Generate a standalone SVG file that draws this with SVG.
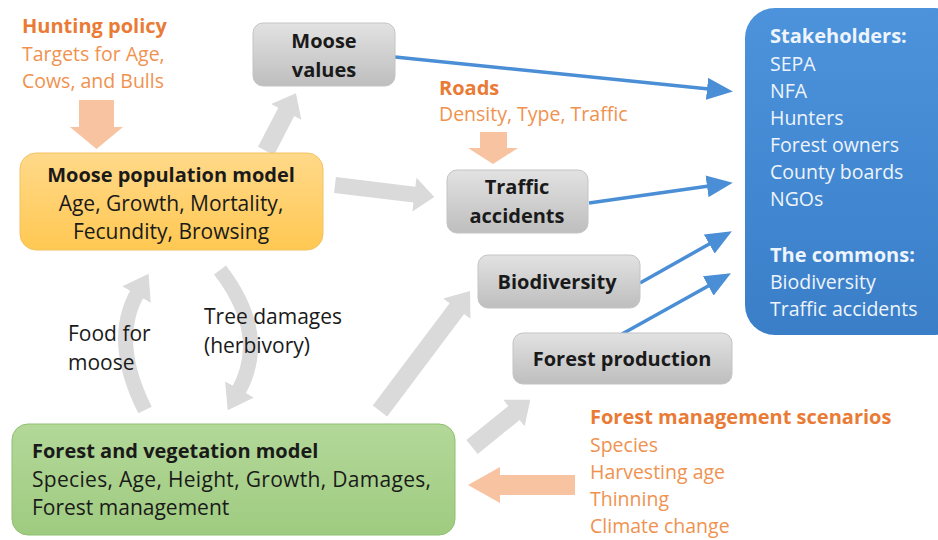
<svg xmlns="http://www.w3.org/2000/svg" width="938" height="540" viewBox="0 0 938 540">
<defs>
<linearGradient id="gGray" x1="0" y1="0" x2="0" y2="1"><stop offset="0" stop-color="#E2E2E2"/><stop offset="1" stop-color="#BEBEBE"/></linearGradient>
<linearGradient id="gYel" x1="0" y1="0" x2="0" y2="1"><stop offset="0" stop-color="#FFD98A"/><stop offset="1" stop-color="#FFC852"/></linearGradient>
<linearGradient id="gGrn" x1="0" y1="0" x2="0" y2="1"><stop offset="0" stop-color="#B3D899"/><stop offset="1" stop-color="#9FCB80"/></linearGradient>
<linearGradient id="gBlu" x1="0" y1="0" x2="0" y2="1"><stop offset="0" stop-color="#4C93DC"/><stop offset="1" stop-color="#3A7EC8"/></linearGradient>
<marker id="blueHead" markerUnits="userSpaceOnUse" markerWidth="26" markerHeight="22" refX="2" refY="11" orient="auto"><path d="M0,0 L26,11 L0,22 Z" fill="#4A8ED6"/></marker>
<marker id="grayHead" markerUnits="strokeWidth" markerWidth="3" markerHeight="3" refX="0.2" refY="1.1" orient="auto"><path d="M0,0 L1.6,1.1 L0,2.2 Z" fill="#DADADA"/></marker>
<style>
text{font-family:"Open Sans",Lato,"Liberation Sans",sans-serif;}
.t{font-size:21px;fill:#1a1a1a;}
.tb{font-size:20px;font-weight:bold;fill:#1a1a1a;}
.c{text-anchor:middle;}
.o{font-size:19.5px;fill:#F0924F;}
.ob{font-size:20px;font-weight:bold;fill:#E97B36;}
.w{font-size:19.5px;fill:#EEF4FB;}
.wb{font-size:20px;font-weight:bold;fill:#EEF4FB;}
.box{fill:url(#gGray);stroke:#C4C4C4;stroke-width:1;}
.fat{fill:#DADADA;}
.peach{fill:#F8C3A0;}
.blue{stroke:#4A8ED6;stroke-width:3.5;fill:none;marker-end:url(#blueHead);}
.curve{stroke:#DADADA;stroke-width:15;fill:none;marker-end:url(#grayHead);}
</style>
</defs>

<g id="connectors">
<path class="fat" transform="translate(266,151) rotate(-62.6)" d="M0,-9 L44,-9 L44,-17 L65,0 L44,17 L44,9 L0,9 Z"/>
<path class="fat" transform="translate(335,185) rotate(6.9)" d="M0,-8 L80,-8 L80,-17 L100,0 L80,17 L80,8 L0,8 Z"/>
<path class="fat" transform="translate(380,411) rotate(-53.1)" d="M0,-9 L128,-9 L128,-17 L150,0 L128,17 L128,9 L0,9 Z"/>
<path class="fat" transform="translate(472,447) rotate(-39)" d="M0,-9 L54,-9 L54,-17 L75,0 L54,17 L54,9 L0,9 Z"/>
<path class="curve" d="M145,410 Q110,340 138,292"/>
<path class="curve" d="M220,270 Q270,335 238,392"/>
<path class="peach" d="M79,100 L114,100 L114,127 L123,127 L96.5,149 L70,127 L79,127 Z"/>
<path class="peach" d="M480,132 L507,132 L507,148 L518,148 L493,164 L468,148 L480,148 Z"/>
<path class="peach" d="M575,475 L500,475 L500,467 L468,485 L500,503 L500,495 L575,495 Z"/>
<path class="blue" d="M395,57 L709,89"/>
<path class="blue" d="M589,203 L709,186"/>
<path class="blue" d="M640,283 L711,243"/>
<path class="blue" d="M622,334 L710,285"/>
</g>

<g id="hunting-policy">
<text class="ob" x="22" y="33">Hunting policy</text>
<text class="o" x="22" y="61">Targets for Age,</text>
<text class="o" x="22" y="88">Cows, and Bulls</text>
</g>

<g id="moose-values">
<rect class="box" x="253" y="23" width="142" height="63" rx="10"/>
<text class="tb c" x="324" y="48">Moose</text>
<text class="tb c" x="324" y="77">values</text>
</g>

<g id="moose-population-model">
<rect x="20" y="153" width="303" height="97" rx="16" fill="url(#gYel)" stroke="#F2C262" stroke-width="1"/>
<text class="tb c" x="171" y="182">Moose population model</text>
<text class="t c" x="171" y="211">Age, Growth, Mortality,</text>
<text class="t c" x="171" y="239">Fecundity, Browsing</text>
</g>

<g id="roads">
<text class="ob" x="439" y="95">Roads</text>
<text class="o" x="439" y="121">Density, Type, Traffic</text>
</g>

<g id="traffic-accidents">
<rect class="box" x="447" y="170" width="141" height="63" rx="10"/>
<text class="tb c" x="517" y="194">Traffic</text>
<text class="tb c" x="517" y="223">accidents</text>
</g>

<g id="biodiversity">
<rect class="box" x="478" y="255" width="162" height="53" rx="10"/>
<text class="tb c" x="557" y="289">Biodiversity</text>
</g>

<g id="forest-production">
<rect class="box" x="513" y="333" width="219" height="51" rx="10"/>
<text class="tb c" x="622" y="366">Forest production</text>
</g>

<g id="stakeholders">
<rect x="745" y="8" width="220" height="327" rx="30" fill="url(#gBlu)"/>
<text class="wb" x="770" y="43">Stakeholders:</text>
<text class="w" x="770" y="71">SEPA</text>
<text class="w" x="770" y="98">NFA</text>
<text class="w" x="770" y="125">Hunters</text>
<text class="w" x="770" y="152">Forest owners</text>
<text class="w" x="770" y="179">County boards</text>
<text class="w" x="770" y="206">NGOs</text>
<text class="wb" x="770" y="262">The commons:</text>
<text class="w" x="770" y="289">Biodiversity</text>
<text class="w" x="770" y="316">Traffic accidents</text>
</g>

<g id="labels">
<text class="t" x="68" y="341">Food for</text>
<text class="t" x="68" y="370">moose</text>
<text class="t" x="204" y="324">Tree damages</text>
<text class="t" x="204" y="353">(herbivory)</text>
</g>

<g id="forest-vegetation-model">
<rect x="12" y="424" width="443" height="111" rx="16" fill="url(#gGrn)" stroke="#8FBF70" stroke-width="1"/>
<text class="tb" x="32" y="458">Forest and vegetation model</text>
<text class="t" x="32" y="487" textLength="399" lengthAdjust="spacing">Species, Age, Height, Growth, Damages,</text>
<text class="t" x="32" y="515">Forest management</text>
</g>

<g id="forest-management-scenarios">
<text class="ob" x="590" y="424">Forest management scenarios</text>
<text class="o" x="590" y="452">Species</text>
<text class="o" x="590" y="479">Harvesting age</text>
<text class="o" x="590" y="506">Thinning</text>
<text class="o" x="590" y="533">Climate change</text>
</g>
</svg>
